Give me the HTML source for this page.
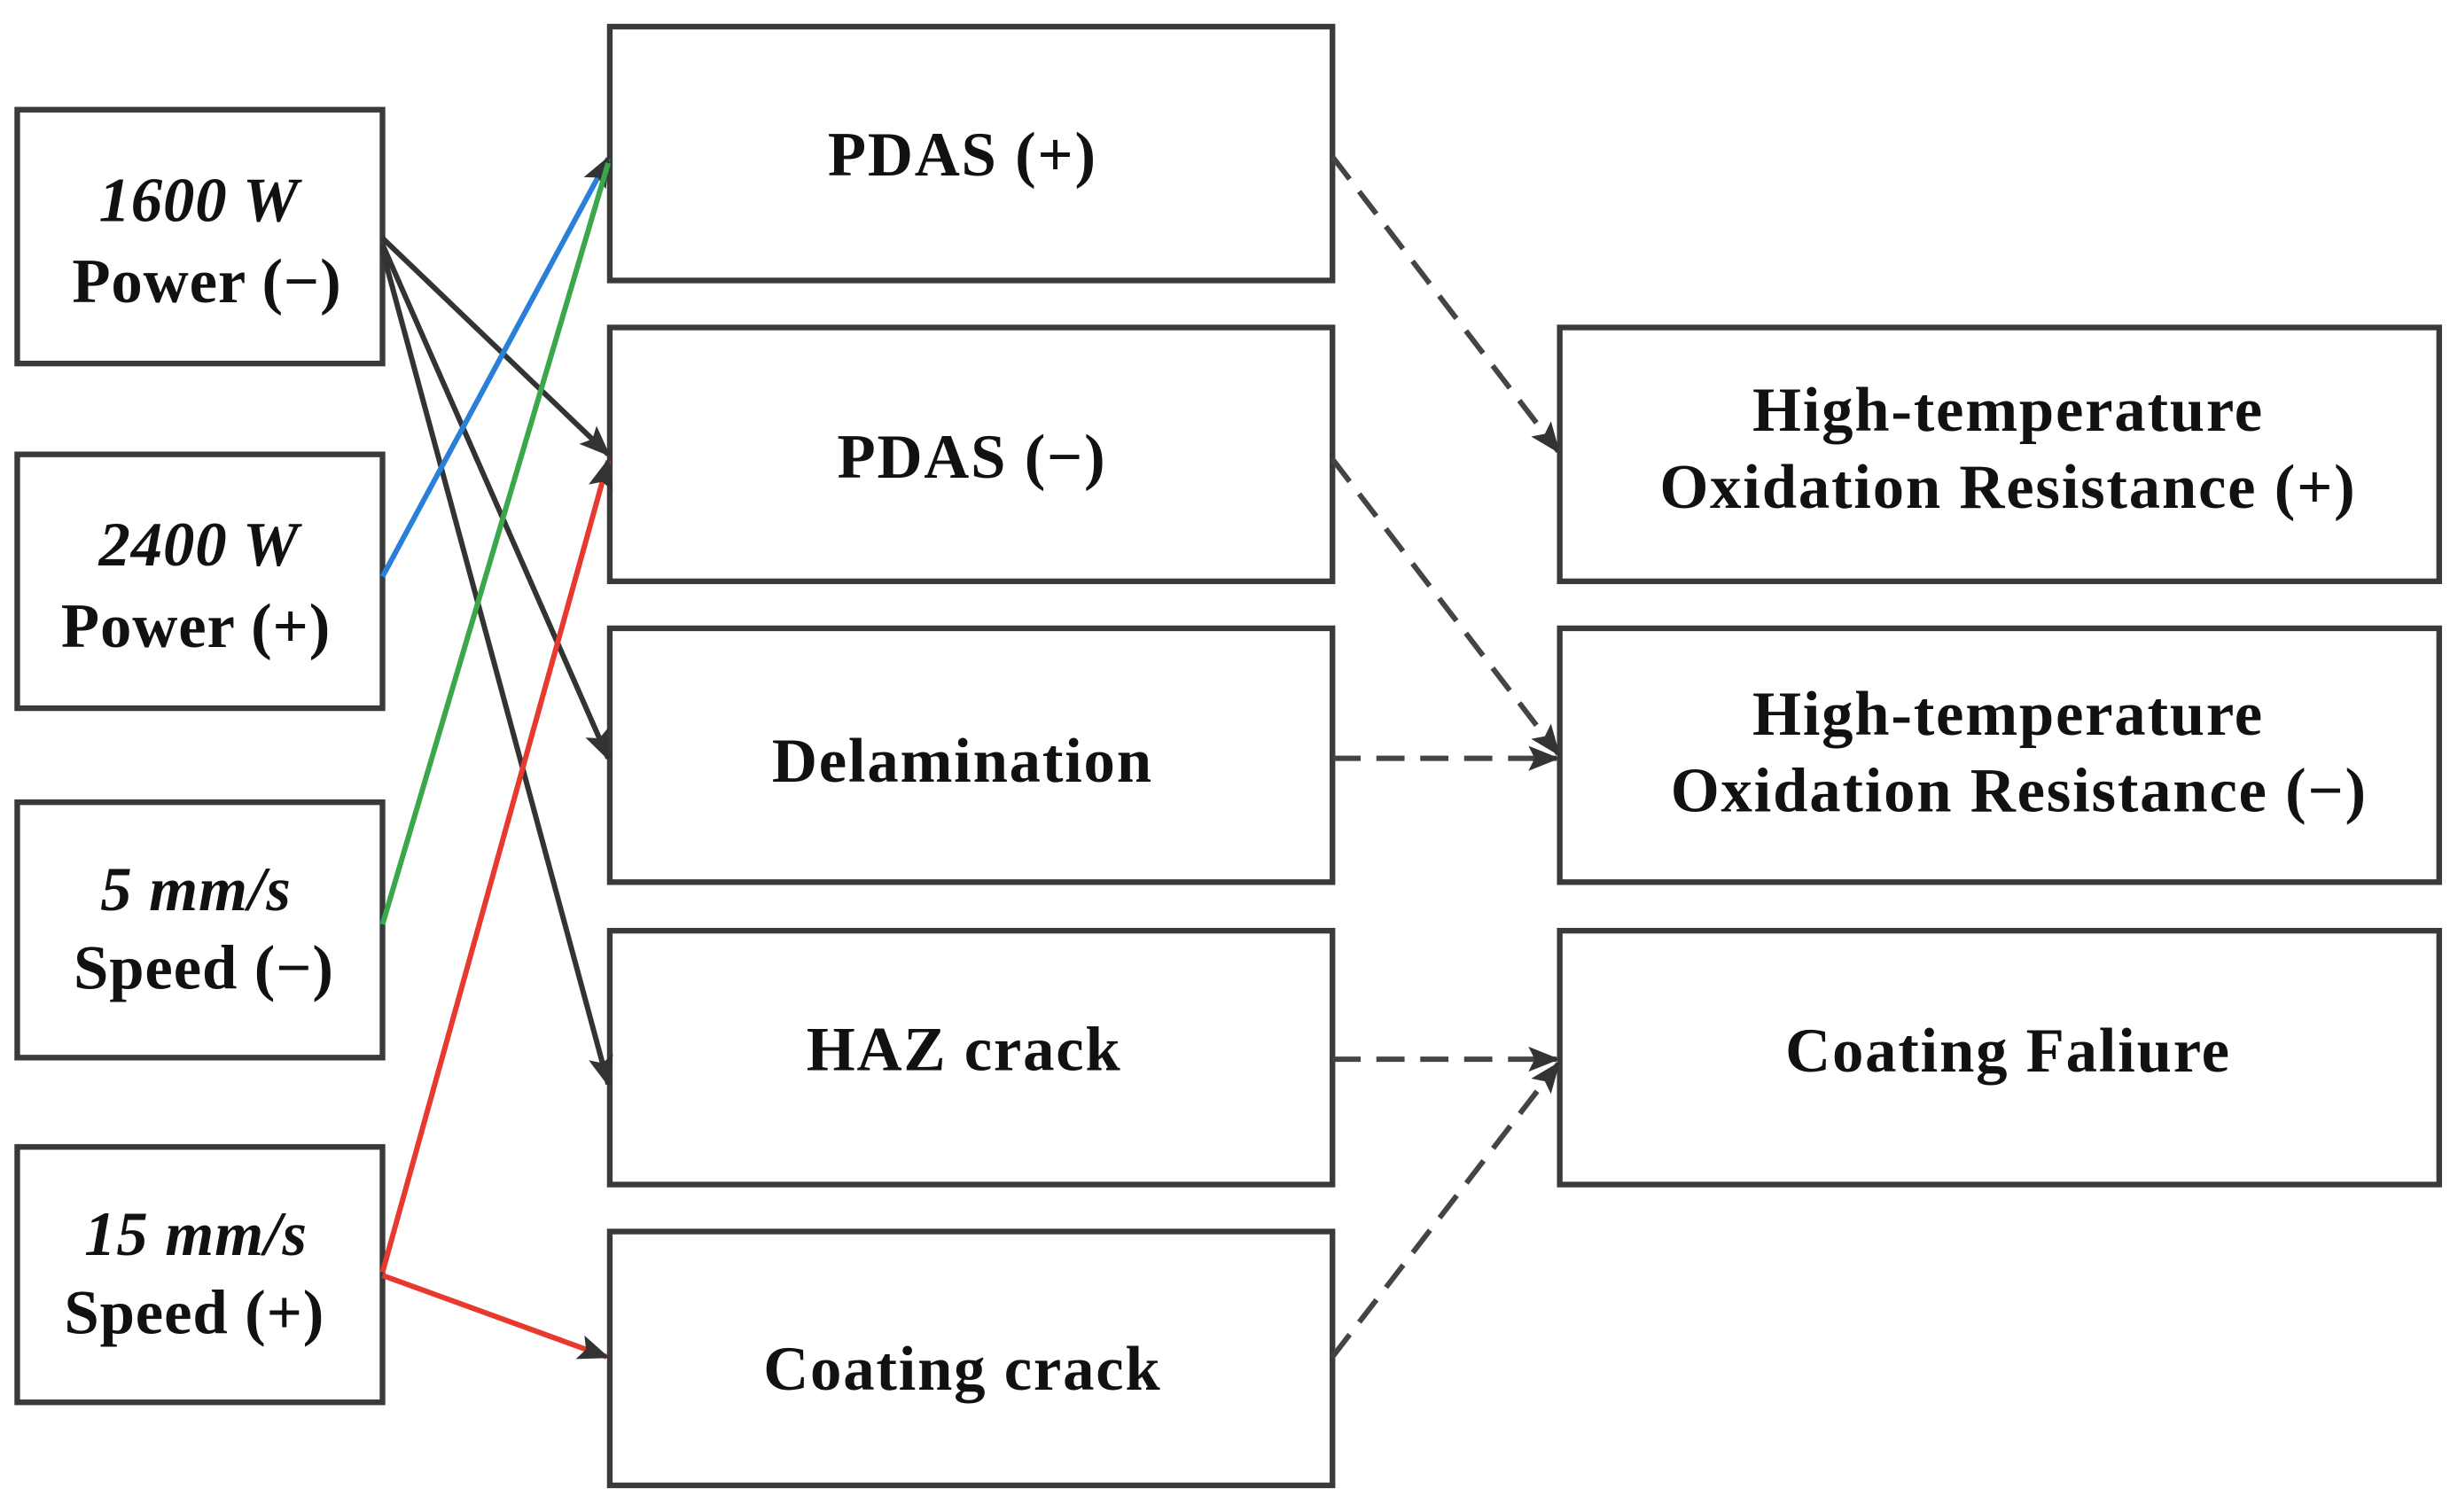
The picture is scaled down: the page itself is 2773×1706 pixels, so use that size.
<!DOCTYPE html>
<html><head><meta charset="utf-8"><style>
html,body{margin:0;padding:0;background:#fff;}
svg{display:block;}
text{font-family:"Liberation Serif",serif;font-weight:bold;fill:#111;text-anchor:middle;}
</style></head><body>
<svg width="2773" height="1706" viewBox="0 0 1568 965" preserveAspectRatio="none" xmlns="http://www.w3.org/2000/svg">
<defs>
<marker id="ak" markerWidth="20" markerHeight="16" refX="18" refY="8" orient="auto" markerUnits="userSpaceOnUse" viewBox="0 0 20 16"><path d="M0,0 L20,8 L0,16 L4,8 z" fill="#333"/></marker>
</defs>
<style>
.b{fill:#fff;stroke:#3a3a3a;stroke-width:3.6;}
</style>
<g>
<rect class="b" x="11" y="70" width="233" height="162"/>
<rect class="b" x="11" y="290" width="233" height="162"/>
<rect class="b" x="11" y="512" width="233" height="163"/>
<rect class="b" x="11" y="732" width="233" height="163"/>
<rect class="b" x="389" y="17" width="461" height="162"/>
<rect class="b" x="389" y="209" width="461" height="162"/>
<rect class="b" x="389" y="401" width="461" height="162"/>
<rect class="b" x="389" y="594" width="461" height="162"/>
<rect class="b" x="389" y="786" width="461" height="162"/>
<rect class="b" x="995" y="209" width="561" height="162"/>
<rect class="b" x="995" y="401" width="561" height="162"/>
<rect class="b" x="995" y="594" width="561" height="162"/>
</g>
<g stroke-width="3.4" fill="none">
<g stroke="#333">
<line x1="244" y1="152" x2="388" y2="290" marker-end="url(#ak)"/>
<line x1="244" y1="156" x2="388" y2="484" marker-end="url(#ak)"/>
<line x1="244" y1="160" x2="388" y2="692" marker-end="url(#ak)"/>
</g>
<line x1="244" y1="368" x2="388" y2="101" stroke="#2a7fd8" marker-end="url(#ak)"/>
<line x1="244" y1="590" x2="388" y2="104" stroke="#3aa84a"/>
<line x1="244" y1="812" x2="388" y2="294" stroke="#e8392e" marker-end="url(#ak)"/>
<line x1="244" y1="814" x2="387" y2="866" stroke="#e8392e" marker-end="url(#ak)"/>
<g stroke="#444" stroke-dasharray="18,10">
<line x1="850" y1="100" x2="994" y2="288" marker-end="url(#ak)"/>
<line x1="850" y1="293" x2="994" y2="481" marker-end="url(#ak)"/>
<line x1="850" y1="484" x2="993" y2="484" marker-end="url(#ak)"/>
<line x1="850" y1="676" x2="993" y2="676" marker-end="url(#ak)"/>
<line x1="850" y1="866" x2="994" y2="679" marker-end="url(#ak)"/>
</g>
</g>
<g font-size="40">
<text x="127" y="141" font-style="italic" letter-spacing="0.5">1600 W</text>
<text x="132" y="193" letter-spacing="0.5">Power (−)</text>
<text x="127" y="361" font-style="italic" letter-spacing="0.5">2400 W</text>
<text x="125" y="413" letter-spacing="0.5">Power (+)</text>
<text x="125" y="581" font-style="italic" letter-spacing="0.5">5 mm/s</text>
<text x="130" y="631" letter-spacing="0.5">Speed (−)</text>
<text x="125" y="801" font-style="italic" letter-spacing="0.5">15 mm/s</text>
<text x="124" y="851" letter-spacing="0.5">Speed (+)</text>
<text x="614" y="112" letter-spacing="1">PDAS (+)</text>
<text x="620" y="305" letter-spacing="1">PDAS (−)</text>
<text x="614" y="499" letter-spacing="1">Delamination</text>
<text x="615" y="683" letter-spacing="1">HAZ crack</text>
<text x="614" y="887" letter-spacing="1">Coating crack</text>
<text x="1281" y="275" letter-spacing="1">High-temperature</text>
<text x="1281" y="324" letter-spacing="1">Oxidation Resistance (+)</text>
<text x="1281" y="469" letter-spacing="1">High-temperature</text>
<text x="1288" y="518" letter-spacing="1">Oxidation Resistance (−)</text>
<text x="1281" y="684" letter-spacing="1">Coating Faliure</text>
</g>
</svg>
</body></html>
